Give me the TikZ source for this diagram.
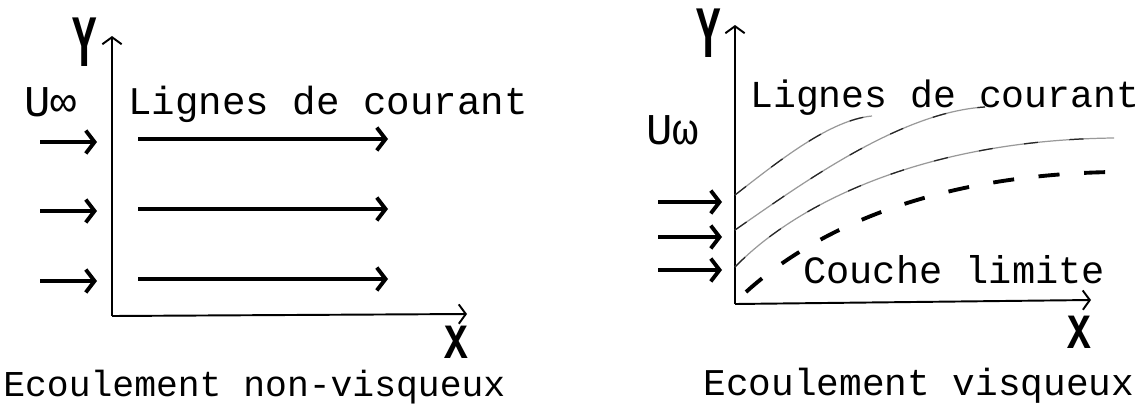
\documentclass[tikz,border=0pt]{standalone}
\usepackage{fontspec}
\newfontfamily\mono{Liberation Mono}
\usetikzlibrary{arrows.meta}

\begin{document}
\begin{tikzpicture}[x=0.02cm, y=-0.02cm,
    axe/.style={line width=1.1pt, -{Straight Barb[length=4pt,width=11pt]}},
    fleche/.style={line width=2.2pt, -{Straight Barb[length=5pt,width=13pt]}},
    ligne/.style={black!40, line width=0.7pt,
        postaction={draw=black!85, dash pattern=on 8pt off 18pt}},
    couche/.style={line width=2.2pt, dash pattern=on 12pt off 14pt},
    txt/.style={inner sep=0pt, anchor=base west}]
    \useasboundingbox (0,0) rectangle (1148,406);

    % 1. Hình trái: hệ trục
    \coordinate (Ol) at (112,316);
    \coordinate (Yl) at (112,36);
    \coordinate (Xl) at (467,314);
    \draw[axe] (Ol) -- (Yl);
    \draw[axe] (Ol) -- (Xl);
    \node[inner sep=0pt] (yl) at (85,42) {\scalebox{0.55}[1]{\mono\bfseries\fontsize{42}{42}\selectfont Y}};
    \node[inner sep=0pt] (xl) at (456,342) {\scalebox{0.8}[1]{\mono\bfseries\fontsize{28}{28}\selectfont X}};

    % 2. Hình trái: dòng tới và đường dòng
    \node[txt, font=\mono\fontsize{25}{25}\selectfont] (ul) at (24,116) {U∞};
    \node[txt, font=\mono\fontsize{22.3}{22.3}\selectfont] (ll) at (128,114) {Lignes de courant};
    \coordinate (a1) at (40,142);  \coordinate (b1) at (97,142);
    \coordinate (a2) at (40,211);  \coordinate (b2) at (97,211);
    \coordinate (a3) at (40,281);  \coordinate (b3) at (97,281);
    \draw[fleche] (a1) -- (b1);
    \draw[fleche] (a2) -- (b2);
    \draw[fleche] (a3) -- (b3);
    \coordinate (c1) at (138,139); \coordinate (d1) at (388,139);
    \coordinate (c2) at (138,209); \coordinate (d2) at (388,209);
    \coordinate (c3) at (138,279); \coordinate (d3) at (388,279);
    \draw[fleche] (c1) -- (d1);
    \draw[fleche] (c2) -- (d2);
    \draw[fleche] (c3) -- (d3);
    \node[txt, font=\mono\fontsize{20.7}{20.7}\selectfont] (el) at (3,396) {Ecoulement non-visqueux};

    % 3. Hình phải: hệ trục
    \coordinate (Or) at (735,304);
    \coordinate (Yr) at (735,25);
    \coordinate (Xr) at (1091,300);
    \draw[axe] (Or) -- (Yr);
    \draw[axe] (Or) -- (Xr);
    \node[inner sep=0pt] (yr) at (709,33) {\scalebox{0.55}[1]{\mono\bfseries\fontsize{42}{42}\selectfont Y}};
    \node[inner sep=0pt] (xr) at (1079,332) {\scalebox{0.8}[1]{\mono\bfseries\fontsize{28}{28}\selectfont X}};

    % 4. Hình phải: dòng tới, đường dòng, lớp biên
    \node[txt, font=\mono\fontsize{25}{25}\selectfont] (ur) at (646,144) {Uω};
    \node[txt, font=\mono\fontsize{21.7}{21.7}\selectfont] (lr) at (750,107) {Lignes de courant};
    \coordinate (p1) at (658,202); \coordinate (q1) at (722,202);
    \coordinate (p2) at (658,237); \coordinate (q2) at (722,237);
    \coordinate (p3) at (658,270); \coordinate (q3) at (722,270);
    \draw[fleche] (p1) -- (q1);
    \draw[fleche] (p2) -- (q2);
    \draw[fleche] (p3) -- (q3);
    \coordinate (s1) at (735,195); \coordinate (t1) at (872,116);
    \coordinate (s2) at (735,230); \coordinate (t2) at (985,107);
    \coordinate (s3) at (735,267); \coordinate (t3) at (1114,138);
    \draw[ligne] (s1) .. controls (780,160) and (830,120) .. (t1);
    \draw[ligne] (s2) .. controls (800,185) and (900,112) .. (t2);
    \draw[ligne] (s3) .. controls (800,200) and (930,140) .. (t3);
    \coordinate (m) at (746,292); \coordinate (n) at (1112,172);
    \draw[couche] (m) .. controls (820,225) and (940,175) .. (n);
    \node[txt, font=\mono\fontsize{22}{22}\selectfont] (cl) at (803,283) {Couche limite};
    \node[txt, font=\mono\fontsize{21.5}{21.5}\selectfont] (er) at (703,395) {Ecoulement visqueux};
\end{tikzpicture}
\end{document}
